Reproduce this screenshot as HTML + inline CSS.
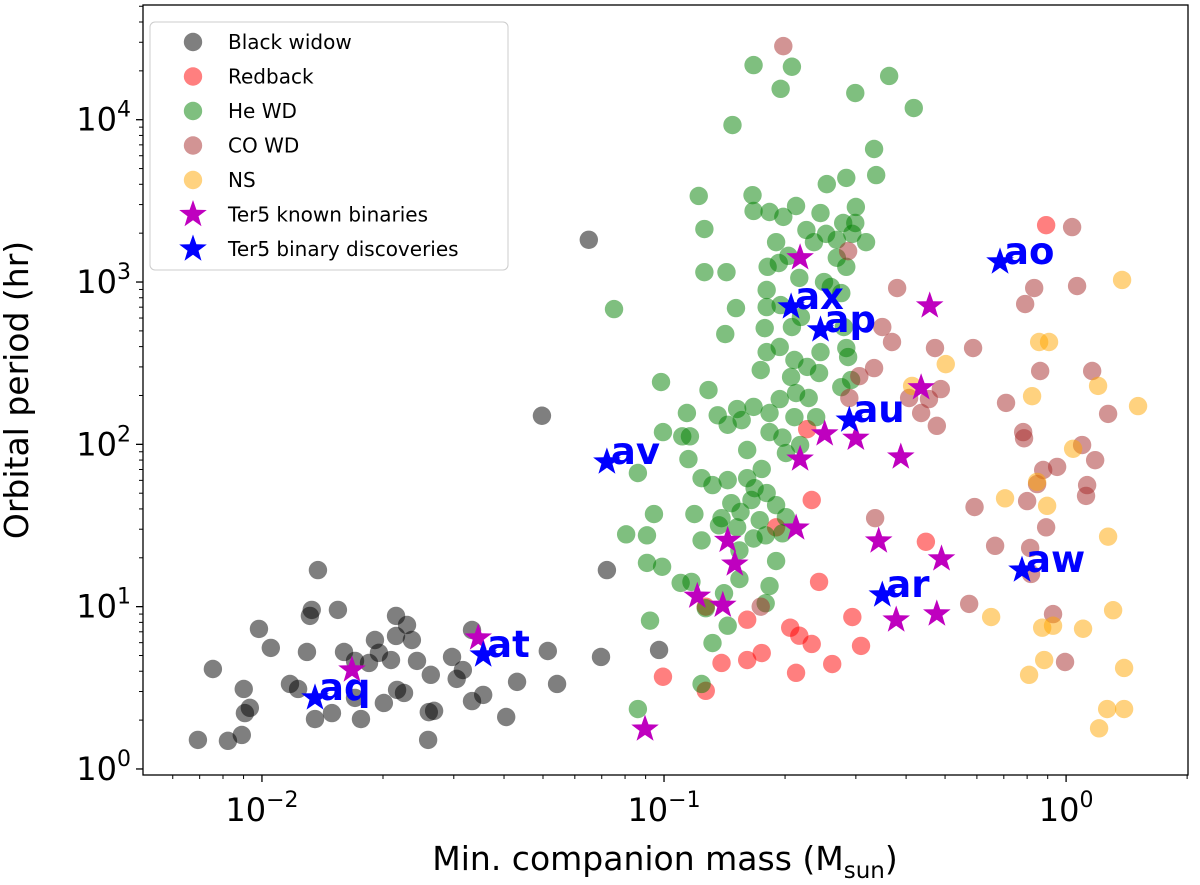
<!DOCTYPE html>
<html><head><meta charset="utf-8"><style>
body{margin:0;background:#fff}
svg{display:block;font-family:"DejaVu Sans","Liberation Sans",sans-serif}
</style></head><body>
<svg id="chart" width="1200" height="885" viewBox="0 0 1200 885" xmlns="http://www.w3.org/2000/svg">
<rect x="0" y="0" width="1200" height="885" fill="#fff"/>
<g id="marks"></g>
<g id="axes"></g>
<text transform="translate(28,390) rotate(-90)" text-anchor="middle" font-size="33">Orbital period (hr)</text>
<text x="665" y="870" text-anchor="middle" font-size="33">Min. companion mass (M<tspan font-size="23" dy="8">sun</tspan><tspan dy="-8">)</tspan></text>
<g id="legend"></g>
</svg>
<script>
const bwMass=[0.01378,0.0133,0.01316,0.01545,0.00983,0.01052,0.01294,0.00755,0.00901,0.00933,0.00907,0.00891,0.00823,0.00693,0.01174,0.0123,0.016,0.01704,0.01704,0.01493,0.01355,0.01763,0.0191,0.01954,0.01846,0.02094,0.02155,0.02295,0.02155,0.0236,0.0243,0.02168,0.02256,0.0201,0.0263,0.0297,0.0316,0.0305,0.0333,0.026,0.0268,0.0259,0.0333,0.0355,0.0405,0.0431,0.0514,0.0542,0.0697,0.0721,0.0972,0.0497,0.065];
const bwPeriod=[16.8,9.55,8.77,9.55,7.29,5.57,5.26,4.13,3.11,2.38,2.21,1.62,1.49,1.51,3.34,3.11,5.26,4.63,2.74,2.21,2.03,2.03,6.23,5.19,4.5,4.69,8.77,7.71,6.6,6.23,4.63,3.07,2.94,2.55,3.8,4.9,4.07,3.59,7.18,2.24,2.28,1.51,2.62,2.86,2.09,3.44,5.33,3.34,4.9,16.8,5.41,150,1820];
const rbMass=[0.892,0.227,0.233,0.190,0.243,0.448,0.127,0.161,0.206,0.217,0.233,0.294,0.309,0.175,0.161,0.139,0.262,0.213,0.0994,0.127];
const rbPeriod=[2240,124,45.4,30.8,14.2,25.1,10,8.31,7.42,6.62,5.89,8.63,5.73,5.18,4.69,4.5,4.43,3.91,3.70,3.03];
const heMass=[0.167,0.208,0.195,0.299,0.363,0.418,0.148,0.333,0.337,0.284,0.254,0.122,0.166,0.167,0.183,0.198,0.213,0.245,0.300,0.279,0.299,0.126,0.226,0.190,0.236,0.253,0.269,0.294,0.318,0.269,0.284,0.181,0.193,0.204,0.217,0.126,0.143,0.250,0.260,0.276,0.180,0.180,0.195,0.219,0.0751,0.151,0.178,0.208,0.280,0.142,0.180,0.194,0.211,0.245,0.284,0.287,0.174,0.207,0.227,0.243,0.0983,0.129,0.292,0.276,0.114,0.136,0.152,0.167,0.144,0.156,0.183,0.194,0.211,0.213,0.229,0.239,0.0994,0.111,0.116,0.183,0.197,0.218,0.161,0.201,0.115,0.0861,0.124,0.132,0.144,0.161,0.175,0.168,0.180,0.165,0.147,0.190,0.0944,0.119,0.155,0.139,0.173,0.152,0.137,0.201,0.0805,0.0907,0.124,0.167,0.179,0.197,0.154,0.190,0.0907,0.0989,0.154,0.110,0.117,0.183,0.141,0.179,0.127,0.0923,0.144,0.132,0.124,0.0861];
const hePeriod=[21700,21200,15500,14600,18600,11800,9270,6600,4560,4380,4010,3390,3430,2740,2700,2520,2940,2660,2900,2310,2310,2120,2090,1760,1760,1980,1820,1980,1760,1410,1240,1240,1310,1450,1060,1150,1150,1000,932,855,893,701,721,609,681,691,520,528,528,478,370,398,331,370,392,345,287,260,300,275,242,216,249,225,156,151,165,170,132,141,156,190,147,207,193,147,119,112,112,119,110,99,92.3,88.4,81.1,66.6,61.9,56.1,60.2,61.9,70.5,53.7,50.1,45.4,43.4,42.2,37.2,37.2,38.3,35.1,34.1,30.8,31.7,35.6,27.9,27.5,25.6,26.3,27.5,28.3,22.2,19.1,18.6,17.6,14.8,14.0,14.2,13.4,12.1,10.5,9.78,8.2,7.63,5.97,3.34,2.34];
const coMass=[1.035,0.380,0.833,1.065,0.791,0.349,0.369,0.472,0.587,0.333,0.306,0.862,1.161,0.488,0.456,0.436,0.477,0.709,1.272,0.782,0.786,1.096,1.181,0.877,0.950,0.847,1.128,1.121,0.800,0.592,0.892,0.335,0.666,0.814,0.818,0.574,0.928,0.994,0.198,0.287,0.174,0.289,0.407];
const coPeriod=[2180,918,918,945,732,528,427,392,392,295,263,283,283,219,190,156,130,180,154,119,109,99,79.9,69.5,72.6,56.9,56.1,48.1,44.7,41.1,30.8,35.1,23.7,23.0,15.9,10.4,9.00,4.56,28400,1550,10,193,193];
const nsMass=[1.378,0.857,0.907,0.502,0.414,0.823,1.510,1.201,1.041,0.847,0.705,0.897,1.272,0.651,1.309,0.872,0.928,1.102,0.882,0.809,1.394,1.265,1.394,1.208];
const nsPeriod=[1030,427,427,312,229,198,172,229,93.9,58.7,46.5,41.8,27.0,8.63,9.51,7.42,7.63,7.31,4.69,3.80,4.19,2.34,2.34,1.78];
const knownMass=[0.01675,0.0345,0.218,0.458,0.436,0.251,0.300,0.218,0.388,0.144,0.213,0.342,0.150,0.490,0.121,0.140,0.378,0.477,0.0897];
const knownPeriod=[4.07,6.41,1410,713,223,116,109,81.1,83.6,25.6,30.5,25.4,18.3,19.7,11.6,10.2,8.28,9.02,1.76];
const discNames=["aq","at","av","ax","ap","au","ar","ao","aw"];
const discMass=[0.01355,0.0355,0.0721,0.207,0.245,0.289,0.349,0.685,0.777];
const discPeriod=[2.74,5.04,77.9,703,507,141,11.8,1330,16.8];
const xTickValues=[0.01,0.1,1];
const xTickExp=["−2","−1","0"];
const yTickValues=[1,10,100,1000,10000];
const yTickExp=["0","1","2","3","4"];

const NS='http://www.w3.org/2000/svg';
const L=143,R=1188,T=5,B=775;
const xMin=Math.log10(0.00506),xMax=Math.log10(2.01);
const yMin=Math.log10(0.918),yMax=Math.log10(50900);
const xs=v=>L+(Math.log10(v)-xMin)/(xMax-xMin)*(R-L);
const ys=v=>B-(Math.log10(v)-yMin)/(yMax-yMin)*(B-T);
function mk(tag,attrs,parent){const e=document.createElementNS(NS,tag);for(const k in attrs)e.setAttribute(k,attrs[k]);parent.appendChild(e);return e;}
function starPts(cx,cy,r){let p=[];for(let i=0;i<10;i++){const a=-Math.PI/2+i*Math.PI/5;const rr=i%2?r*0.4:r;p.push((cx+rr*Math.cos(a)).toFixed(1)+','+(cy+rr*Math.sin(a)).toFixed(1));}return p.join(' ');}
const marks=document.getElementById('marks');
function dots(mass,per,color,name){
  for(let i=0;i<mass.length;i++){
    const c=mk('circle',{cx:xs(mass[i]),cy:ys(per[i]),r:9.2,fill:color,'fill-opacity':0.5},marks);
    
    
  }
}
dots(bwMass,bwPeriod,'#000000','black-widow-point');
dots(rbMass,rbPeriod,'#ff0000','redback-point');
dots(heMass,hePeriod,'#008000','he-wd-point');
dots(coMass,coPeriod,'#a52a2a','co-wd-point');
dots(nsMass,nsPeriod,'#ffa500','ns-point');
for(let i=0;i<knownMass.length;i++){
  const s=mk('polygon',{points:starPts(xs(knownMass[i]),ys(knownPeriod[i]),14.5),fill:'#bf00bf'},marks);
  
  
}
for(let i=0;i<discMass.length;i++){
  const x=xs(discMass[i]),y=ys(discPeriod[i]);
  const s=mk('polygon',{points:starPts(x,y,14.5),fill:'#0000ff'},marks);
  
  
  const t=mk('text',{x:x+4,y:y+2,fill:'#0000ff','font-size':37,'font-weight':'bold'},marks);
  t.textContent=discNames[i];
  
  
}
const axes=document.getElementById('axes');
const fr=mk('rect',{x:L,y:T,width:R-L,height:B-T,fill:'none',stroke:'#000','stroke-width':1.3},axes);


for(let e=-3;e<=1;e++)for(let k=2;k<=9;k++){const v=k*Math.pow(10,e);if(v<Math.pow(10,xMin)||v>Math.pow(10,xMax))continue;const x=xs(v);
  const m=mk('line',{x1:x,x2:x,y1:B,y2:B+4,stroke:'#000','stroke-width':1},axes);}
for(let e=-1;e<=5;e++)for(let k=2;k<=9;k++){const v=k*Math.pow(10,e);if(v<Math.pow(10,yMin)||v>Math.pow(10,yMax))continue;const y=ys(v);
  const m=mk('line',{x1:L-4,x2:L,y1:y,y2:y,stroke:'#000','stroke-width':1},axes);}
for(let i=0;i<xTickValues.length;i++){const x=xs(xTickValues[i]);
  const t=mk('line',{x1:x,x2:x,y1:B,y2:B+7,stroke:'#000','stroke-width':1.3},axes);
  const lb=mk('text',{x:x,y:B+46,'text-anchor':'middle','font-size':32},axes);
  lb.innerHTML='10<tspan font-size="22" dy="-14">'+xTickExp[i]+'</tspan>';}
for(let i=0;i<yTickValues.length;i++){const y=ys(yTickValues[i]);
  const t=mk('line',{x1:L-7,x2:L,y1:y,y2:y,stroke:'#000','stroke-width':1.3},axes);
  const lb=mk('text',{x:L-12,y:y+11,'text-anchor':'end','font-size':32},axes);
  lb.innerHTML='10<tspan font-size="22" dy="-14">'+yTickExp[i]+'</tspan>';}
const lg=document.getElementById('legend');
const box=mk('rect',{x:150,y:22,width:358,height:248,rx:5,fill:'#fff','fill-opacity':0.8,stroke:'#ccc','stroke-width':1},lg);

const entries=[['Black widow','#000000','c'],['Redback','#ff0000','c'],['He WD','#008000','c'],['CO WD','#a52a2a','c'],['NS','#ffa500','c'],['Ter5 known binaries','#bf00bf','s'],['Ter5 binary discoveries','#0000ff','s']];
entries.forEach((en,i)=>{const y=42+i*34.5;
  const g=mk('g',{},lg);
  if(en[2]==='c')mk('circle',{cx:193,cy:y,r:9.2,fill:en[1],'fill-opacity':0.5},g);
  else mk('polygon',{points:starPts(193,y,14.5),fill:en[1]},g);
  const t=mk('text',{x:228,y:y+7,'font-size':20},g);t.textContent=en[0];});
</script>
</body></html>
